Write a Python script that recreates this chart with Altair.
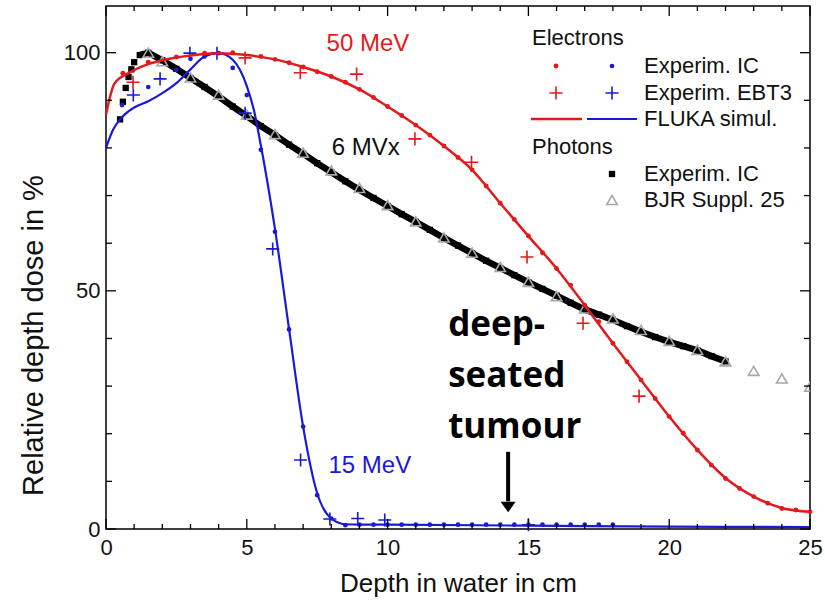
import altair as alt
import pandas as pd

# ---------------- data ----------------
# 50 MeV electrons – FLUKA simulation (red line)
red_sim_x = [0, 0.3, 0.8, 1.5, 2, 3, 4, 5, 6, 7, 8, 9, 10, 11, 12, 13, 14, 15, 16, 17,
             18, 19, 20, 21, 22, 23, 24, 25]
red_sim_y = [87, 93.5, 95.7, 97.6, 98.4, 99.4, 99.9, 99.5, 98.6, 97.0, 95.0, 92.3, 88.7,
             84.8, 80.4, 75.4, 68.4, 61.5, 54.7, 47.0, 39.0, 31.3, 23.6, 16.6, 10.7, 6.8,
             4.4, 3.6]
# 50 MeV electrons – ionisation chamber (red dots)
red_ic_x = [0.6, 1.5, 2.5, 3.5, 4.5, 5.5, 6.0, 6.5, 7.0, 7.5, 8.0, 8.5, 9.0, 9.5, 10.0,
            10.5, 11.0, 11.5, 12.0, 12.5, 13.0, 13.5, 14.0, 14.5, 15.0, 15.5, 16.0, 16.5,
            17.0, 17.5, 18.0, 18.5, 19.0, 19.5, 20.0, 20.5, 21.0, 21.5, 22.0, 22.5, 23.0,
            23.5, 24.0, 24.5, 25.0]
red_ic_y = [95.7, 98.0, 99.1, 99.9, 100.0, 99.2, 98.6, 97.9, 97.0, 96.0, 95.0, 93.8, 92.3,
            90.6, 88.7, 86.8, 84.8, 82.7, 80.4, 78.0, 75.4, 72.0, 68.4, 65.0, 61.5, 58.0,
            54.7, 51.2, 47.0, 43.5, 39.0, 35.1, 31.3, 27.4, 23.6, 20.1, 16.6, 13.4, 10.6,
            8.5, 6.8, 5.4, 4.3, 4.0, 3.6]
# 50 MeV electrons – EBT3 film (red plus)
red_ebt_x = [0.96, 4.94, 6.9, 8.9, 10.97, 12.98, 14.95, 16.94, 18.93]
red_ebt_y = [93.8, 98.9, 95.8, 95.5, 81.9, 77.0, 57.1, 43.2, 27.9]

# 15 MeV electrons – FLUKA simulation (blue line)
blue_sim_x = [0, 0.25, 0.5, 1.0, 1.5, 2.0, 2.5, 3.0, 3.5, 4.0, 4.5, 5.0, 5.25, 5.5, 6.0,
              6.5, 7.0, 7.5, 8.0, 8.5, 9, 10, 15, 20, 25]
blue_sim_y = [80, 83.8, 86, 88.5, 89.8, 91.5, 93.6, 96.5, 99.2, 99.9, 98.5, 93.0, 88.0,
              80.5, 63.0, 42.0, 21.5, 7.5, 2.2, 1.0, 0.9, 0.9, 0.7, 0.5, 0.4]
# 15 MeV electrons – ionisation chamber (blue dots)
blue_ic_x = [0.57, 1.5, 2.5, 3.0, 3.5, 4.0, 4.5, 5.0, 5.5, 6.0, 6.5, 7.0, 7.5, 8.0, 8.5,
             9.0, 9.5, 10.0, 10.5, 11.0, 11.5, 12.0, 12.5, 13.0, 13.5, 14.0, 14.5, 15.0,
             15.5, 16.0, 16.5, 17.0, 17.5, 18.0]
blue_ic_y = [89.0, 92.8, 96.4, 98.7, 99.2, 99.9, 96.8, 91.1, 79.6, 62.4, 41.9, 21.5, 7.1,
             2.2, 0.8, 0.9, 0.9, 0.9, 0.9, 0.9, 0.9, 0.9, 0.9, 0.9, 0.9, 0.9, 0.9, 0.9,
             0.9, 0.9, 0.9, 0.9, 0.9, 0.9]
# 15 MeV electrons – EBT3 film (blue plus)
blue_ebt_x = [0.97, 1.92, 2.98, 3.94, 4.94, 5.92, 6.91, 7.95, 8.94, 9.9, 15.0]
blue_ebt_y = [91.1, 94.5, 99.9, 99.9, 87.3, 58.8, 14.5, 2.1, 2.2, 1.9, 0.9]

# 6 MV photons – ionisation chamber (black squares)
ph_ic_x = [0.5, 0.6, 0.7, 0.8, 0.9, 1.0, 1.2, 1.5, 2.0, 2.5, 3.0, 3.5, 4.0, 4.5, 5.0, 5.5,
           6.0, 6.5, 7.0, 7.5, 8.0, 8.5, 9.0, 9.5, 10.0, 10.5, 11.0, 11.5, 12.0, 12.5,
           13.0, 13.5, 14.0, 14.5, 15.0, 15.5, 16.0, 16.5, 17.0, 17.5, 18.0, 18.5, 19.0,
           19.5, 20.0, 20.5, 21.0, 21.5, 22.0]
ph_ic_y = [86.0, 89.7, 92.6, 94.9, 96.5, 98.0, 99.5, 100.0, 98.4, 96.6, 94.7, 92.8, 90.8,
           88.7, 86.7, 84.6, 82.7, 80.7, 78.8, 76.8, 74.9, 73.0, 71.2, 69.5, 67.8, 66.1,
           64.5, 62.8, 61.1, 59.5, 57.9, 56.3, 54.8, 53.3, 51.8, 50.4, 49.0, 47.5, 46.1,
           45.0, 43.9, 42.6, 41.4, 40.3, 39.3, 38.4, 37.5, 36.3, 35.2]
# 6 MV photons – BJR Suppl. 25 (grey open triangles)
bjr_x = [1.5, 2, 3, 4, 5, 6, 7, 8, 9, 10, 11, 12, 13, 14, 15, 16, 17, 18, 19, 20, 21, 22,
         23, 24, 25]
bjr_y = [100, 98.2, 94.8, 91.2, 87.0, 82.9, 79.0, 75.3, 71.6, 68.0, 64.6, 61.2, 58.0, 55.0,
         51.9, 48.9, 46.3, 44.2, 41.8, 39.5, 37.6, 35.2, 33.2, 31.6, 29.9]

# axis ticks
x_major = [0, 5, 10, 15, 20, 25]
x_minor = [v for v in range(0, 26) if v % 5 != 0]
y_major = [0, 50, 100]
y_minor = [10, 20, 30, 40, 60, 70, 80, 90]

# annotations
labels_txt = ["50 MeV", "6 MVx", "15 MeV"]
labels_x = [9.3, 9.22, 9.37]
labels_y = [101.8, 80.0, 13.2]
labels_col = ["#e3191c", "#111111", "#1a1ad6"]
tumour_txt = ["deep-", "seated", "tumour"]
arrow_x = [14.28]
arrow_y0 = [16.2]
arrow_y1 = [5.8]
arrow_head_y = [4.6]

RED = "#e3191c"
BLUE = "#1a1ad6"
FONT = "Liberation Sans"
W, H = 704, 523

xs = alt.Scale(domain=[0, 25], nice=False, zero=False)
ys = alt.Scale(domain=[0, 109.8], nice=False, zero=False)


def df(x, y):
    return pd.DataFrame({"x": x, "y": y})


X = alt.X("x:Q", scale=xs,
          axis=alt.Axis(values=x_major, title="Depth in water in cm", format="d",
                        titleFontSize=26, labelFlush=False, labelOverlap=False))
Y = alt.Y("y:Q", scale=ys,
          axis=alt.Axis(values=y_major, title="Relative depth dose in %", format="d",
                        titleFontSize=29, titleX=-58, titleY=329, titleAngle=-90,
                        titleBaseline="bottom", titleAlign="center", labelFlush=False))

plus_shape = "M-1,0L1,0M0,-1L0,1"

layers = []
# photons experimental: thick black band of squares (band drawn past the build-up)
layers.append(alt.Chart(df(ph_ic_x, ph_ic_y)).transform_filter(alt.datum.x >= 1.2)
              .mark_line(color="black", strokeWidth=6.5).encode(x=X, y=Y))
layers.append(alt.Chart(df(ph_ic_x, ph_ic_y)).mark_point(shape="square", filled=True,
              color="black", size=40, opacity=1).encode(x=X, y=Y))
# BJR triangles
layers.append(alt.Chart(df(bjr_x, bjr_y)).mark_point(shape="triangle-up", filled=False,
              color="#a8a8a8", size=110, strokeWidth=1.6, opacity=1, clip=True)
              .encode(x=X, y=Y))
# blue
layers.append(alt.Chart(df(blue_sim_x, blue_sim_y)).mark_line(color=BLUE, strokeWidth=2.2,
              interpolate="monotone").encode(x=X, y=Y))
layers.append(alt.Chart(df(blue_ic_x, blue_ic_y)).mark_circle(color=BLUE, size=22, opacity=1)
              .encode(x=X, y=Y))
layers.append(alt.Chart(df(blue_ebt_x, blue_ebt_y)).mark_point(shape=plus_shape, filled=False,
              color=BLUE, size=170, strokeWidth=1.6, opacity=1).encode(x=X, y=Y))
# red
layers.append(alt.Chart(df(red_sim_x, red_sim_y)).mark_line(color=RED, strokeWidth=2.5,
              interpolate="monotone").encode(x=X, y=Y))
layers.append(alt.Chart(df(red_ic_x, red_ic_y)).mark_circle(color=RED, size=24, opacity=1)
              .encode(x=X, y=Y))
layers.append(alt.Chart(df(red_ebt_x, red_ebt_y)).mark_point(shape=plus_shape, filled=False,
              color=RED, size=170, strokeWidth=1.6, opacity=1).encode(x=X, y=Y))


# inward ticks (frame ticks on all four sides)
def xticks(vals, ln):
    d = pd.DataFrame({"x": vals})
    b = alt.Chart(d).mark_rule(color="black", strokeWidth=1.3).encode(
        x=alt.X("x:Q", scale=xs), y=alt.value(H), y2=alt.value(H - ln))
    t = alt.Chart(d).mark_rule(color="black", strokeWidth=1.3).encode(
        x=alt.X("x:Q", scale=xs), y=alt.value(0), y2=alt.value(ln))
    return [b, t]


def yticks(vals, ln):
    d = pd.DataFrame({"y": vals})
    l = alt.Chart(d).mark_rule(color="black", strokeWidth=1.3).encode(
        y=alt.Y("y:Q", scale=ys), x=alt.value(0), x2=alt.value(ln))
    r = alt.Chart(d).mark_rule(color="black", strokeWidth=1.3).encode(
        y=alt.Y("y:Q", scale=ys), x=alt.value(W - ln), x2=alt.value(W))
    return [l, r]


layers += xticks(x_major, 10) + xticks(x_minor, 5) + yticks(y_major, 10) + yticks(y_minor, 6)

# curve labels
lab = pd.DataFrame({"t": labels_txt, "x": labels_x, "y": labels_y, "c": labels_col})
layers.append(alt.Chart(lab).mark_text(font=FONT, fontSize=24, align="center",
              baseline="middle").encode(x=alt.X("x:Q", scale=xs), y=alt.Y("y:Q", scale=ys),
              text="t:N", color=alt.Color("c:N", scale=None)))

# deep-seated tumour annotation
layers.append(alt.Chart(pd.DataFrame({"x": [12.15], "y": [40.5]})).mark_text(
    text=tumour_txt, font="Open Sans", fontWeight="bold", fontSize=35, lineHeight=51,
    align="left", baseline="alphabetic", color="black")
    .encode(x=alt.X("x:Q", scale=xs), y=alt.Y("y:Q", scale=ys)))
arr = pd.DataFrame({"x": arrow_x, "y": arrow_y0, "y2": arrow_y1})
layers.append(alt.Chart(arr).mark_rule(color="black", strokeWidth=4).encode(
    x=alt.X("x:Q", scale=xs), y=alt.Y("y:Q", scale=ys), y2="y2:Q"))
layers.append(alt.Chart(pd.DataFrame({"x": arrow_x, "y": arrow_head_y})).mark_point(
    shape="M-1,-0.7L1,-0.7L0,0.7Z", filled=True, color="black", size=225, opacity=1)
    .encode(x=alt.X("x:Q", scale=xs), y=alt.Y("y:Q", scale=ys)))

# ---------------- legend (pixel placed) ----------------
LX1, LXT, LXB = 450, 538, 506
leg_txt = [
    ("Electrons", 426, 32), ("Experim. IC", LXT, 60), ("Experim. EBT3", LXT, 87),
    ("FLUKA simul.", LXT, 113), ("Photons", 426, 141), ("Experim. IC", LXT, 168),
    ("BJR Suppl. 25", LXT, 194)]
for t, px, py in leg_txt:
    layers.append(alt.Chart(pd.DataFrame({"t": [t]})).mark_text(
        font=FONT, fontSize=22, align="left", baseline="middle", color="#111111")
        .encode(text="t:N", x=alt.value(px), y=alt.value(py)))

one = pd.DataFrame({"a": [0]})


def leg_point(px, py, **kw):
    return alt.Chart(one).mark_point(opacity=1, **kw).encode(x=alt.value(px), y=alt.value(py))


layers.append(leg_point(LX1, 60, shape="circle", filled=True, color=RED, size=24))
layers.append(leg_point(LXB, 60, shape="circle", filled=True, color=BLUE, size=22))
layers.append(leg_point(LX1, 87, shape=plus_shape, filled=False, color=RED, size=170, strokeWidth=1.6))
layers.append(leg_point(LXB, 87, shape=plus_shape, filled=False, color=BLUE, size=170, strokeWidth=1.6))
layers.append(alt.Chart(one).mark_rule(color=RED, strokeWidth=2.5).encode(
    x=alt.value(425), x2=alt.value(476), y=alt.value(113)))
layers.append(alt.Chart(one).mark_rule(color=BLUE, strokeWidth=2.2).encode(
    x=alt.value(481), x2=alt.value(531), y=alt.value(113)))
layers.append(leg_point(LXB, 168, shape="square", filled=True, color="black", size=40))
layers.append(leg_point(LXB, 194, shape="triangle-up", filled=False, color="#a8a8a8",
                        size=110, strokeWidth=1.6))

chart = alt.layer(*layers).properties(
    width=W, height=H,
    autosize=alt.AutoSizeParams(type="none"),
    padding={"left": 106, "top": 6, "right": 15, "bottom": 77},
).configure_view(stroke="black", strokeWidth=1.5).configure_axis(
    grid=False, ticks=False, domain=False, labelFont=FONT, titleFont=FONT,
    labelFontSize=22, labelColor="#111111", titleColor="#111111",
    titleFontWeight="normal",
).configure_axisX(labelPadding=8, titlePadding=12).configure_axisY(labelPadding=6)

chart.save("out.html", embed_options={"renderer": "svg", "actions": False})
